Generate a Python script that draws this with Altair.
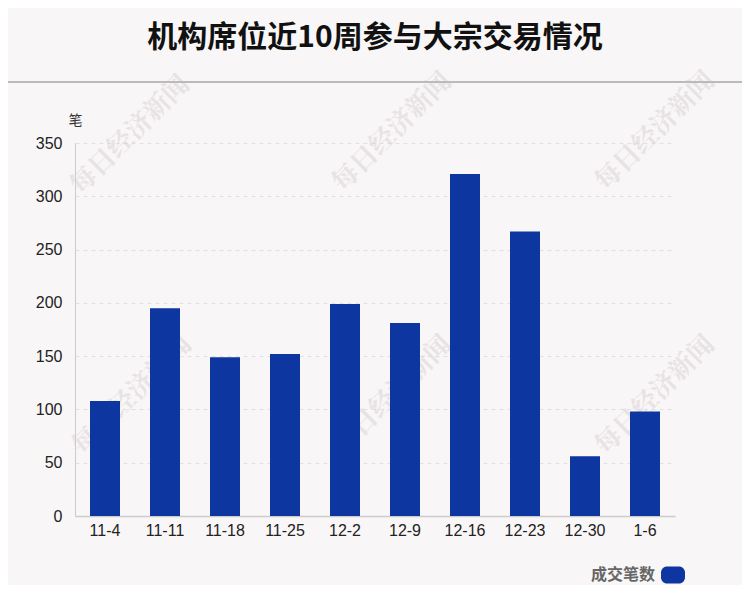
import altair as alt
import pandas as pd

weeks = ["11-4", "11-11", "11-18", "11-25", "12-2", "12-9", "12-16", "12-23", "12-30", "1-6"]
counts = [108, 195, 149, 152, 199, 181, 321, 267, 56, 98]
series_name = "成交笔数"
title_text = "机构席位近10周参与大宗交易情况"
unit_text = "笔"
watermark = "每日经济新闻"
y_ticks = [0, 50, 100, 150, 200, 250, 300, 350]

BG = "#f9f6f7"
BAR = "#0e36a0"
CJK = "Noto Sans CJK SC"

df = pd.DataFrame({"week": weeks, "count": counts, "series": [series_name] * len(weeks)})

pill = ("M -0.5,-0.7 L 0.5,-0.7 A 0.5 0.5 0 0 1 1,-0.2 L 1,0.2 A 0.5 0.5 0 0 1 0.5,0.7 "
        "L -0.5,0.7 A 0.5 0.5 0 0 1 -1,0.2 L -1,-0.2 A 0.5 0.5 0 0 1 -0.5,-0.7 Z")

bars = alt.Chart(df).mark_bar(color=BAR).encode(
    x=alt.X("week:N", sort=weeks, title=None,
            scale=alt.Scale(paddingInner=0.5, paddingOuter=0.25),
            axis=alt.Axis(labelAngle=0, ticks=False, domainColor="#cccccc", domainWidth=1.5,
                          labelFontSize=16, labelFont="Liberation Sans", labelColor="#222222",
                          labelPadding=6, grid=False)),
    y=alt.Y("count:Q", title=unit_text,
            scale=alt.Scale(domain=[0, 350], nice=False),
            axis=alt.Axis(values=y_ticks, ticks=False, domainColor="#cccccc", domainWidth=1,
                          labelFontSize=16, labelFont="Liberation Sans", labelColor="#222222",
                          labelPadding=13, grid=True, gridColor="#e3e0e1", gridDash=[4, 4],
                          titleAngle=0, titleX=-7, titleY=-23, titleAlign="left",
                          titleBaseline="middle", titleFont=CJK, titleFontSize=14,
                          titleFontWeight="normal", titleColor="#333333")),
    color=alt.Color("series:N", scale=alt.Scale(domain=[series_name], range=[BAR]),
                    legend=alt.Legend(title=None, orient="none", legendX=586, legendY=420,
                                      symbolType=pill, symbolSize=576, symbolStrokeWidth=0,
                                      labelAlign="right", labelOffset={"expr": "-30"},
                                      labelFontSize=16,
                                      labelFont=CJK, labelFontWeight="bold", labelColor="#666666",
                                      padding=0)),
)

# watermarks
wm_positions_x = [55, 317, 580, 57, 317, 580]
wm_positions_y = [-8, -11, -12, 252, 252, 252]
wm_layers = []
for wx, wy in zip(wm_positions_x, wm_positions_y):
    wm_layers.append(
        alt.Chart(pd.DataFrame({"t": [watermark]})).mark_text(
            font="Noto Serif CJK SC, Noto Sans CJK SC", fontSize=26, fontWeight="bold",
            color="#d6d2d3", opacity=0.5,
            angle=315, align="center", baseline="middle"
        ).encode(text="t:N", x=alt.value(wx), y=alt.value(wy))
    )

title = alt.Chart(pd.DataFrame({"t": [title_text]})).mark_text(
    font=CJK, fontSize=30, fontWeight="bold", color="#111111", align="center", baseline="middle"
).encode(text="t:N", x=alt.value(300), y=alt.value(-105))

sep = alt.Chart(pd.DataFrame({"t": [0]})).mark_rule(color="#bbbbbb", strokeWidth=2).encode(
    x=alt.value(-80), x2=alt.value(690), y=alt.value(-61)
)

chart = alt.layer(*wm_layers, sep, title, bars).properties(
    width=600, height=373,
    background=BG,
    padding={"left": 67, "top": 135, "right": 67, "bottom": 69},
    autosize=alt.AutoSizeParams(type="none"),
).configure_view(stroke=None)

chart.save("out.html", embed_options={"renderer": "svg", "actions": False})
